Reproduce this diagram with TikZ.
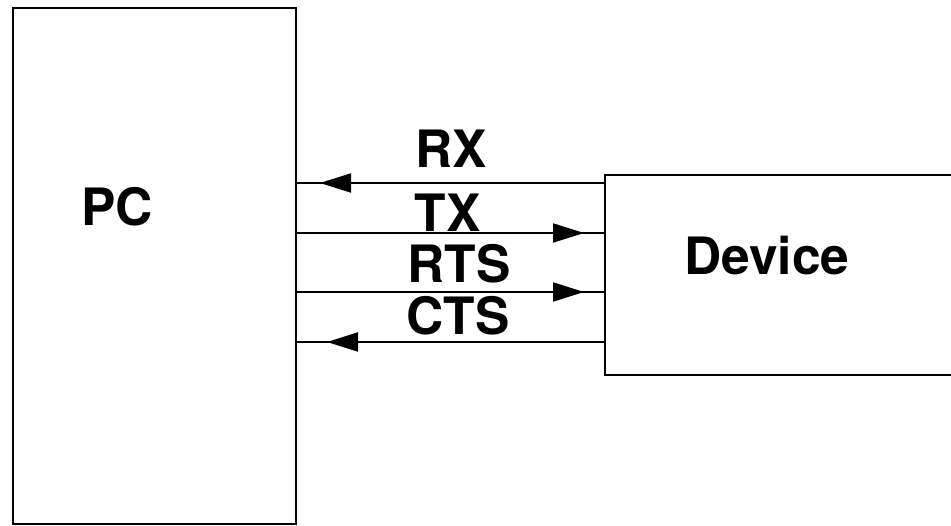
\documentclass[tikz,border=0pt]{standalone}
\usepackage{fontspec}
\setmainfont{TeX Gyre Heros}
\usetikzlibrary{arrows.meta,decorations.markings}
\begin{document}
\begin{tikzpicture}[x=1pt,y=-1pt,
  box/.style={draw=black,line width=2.5pt,fill=none,inner sep=0pt,outer sep=0pt,anchor=north west},
  lbl/.style={inner sep=0pt,font=\fontsize{51.5}{60}\selectfont\bfseries},
  wire/.style={line width=2pt},
  tipat/.style={postaction={decorate},decoration={markings,
     mark=at position #1 with {\arrow{Triangle[length=31pt,width=19pt]}}}}
]
\useasboundingbox (0,0) rectangle (951,526);
\fill[white] (0,0) rectangle (951,526);
\node[box,minimum width=283pt,minimum height=516pt] (pc) at (13,8) {};
\node[box,minimum width=360pt,minimum height=200pt] (dev) at (605,175) {};
\node[lbl] (pctxt) at (117,207) {PC};
\node[lbl] (devtxt) at (767,256) {Device};
% wires
\coordinate (yrx) at (0,183);
\coordinate (ytx) at (0,233);
\coordinate (yrts) at (0,292);
\coordinate (ycts) at (0,342);
\draw[wire,tipat=285pt] (dev.west |- yrx) -- (pc.east |- yrx);
\draw[wire,tipat=288pt] (pc.east |- ytx) -- (dev.west |- ytx);
\draw[wire,tipat=288pt] (pc.east |- yrts) -- (dev.west |- yrts);
\draw[wire,tipat=278pt] (dev.west |- ycts) -- (pc.east |- ycts);
\node[lbl] (rx) at (451,148.5) {RX};
\node[lbl] (tx) at (447.5,213) {TX};
\node[lbl] (rts) at (459,264) {RTS};
\node[lbl] (cts) at (458,315.5) {CTS};
\end{tikzpicture}
\end{document}
